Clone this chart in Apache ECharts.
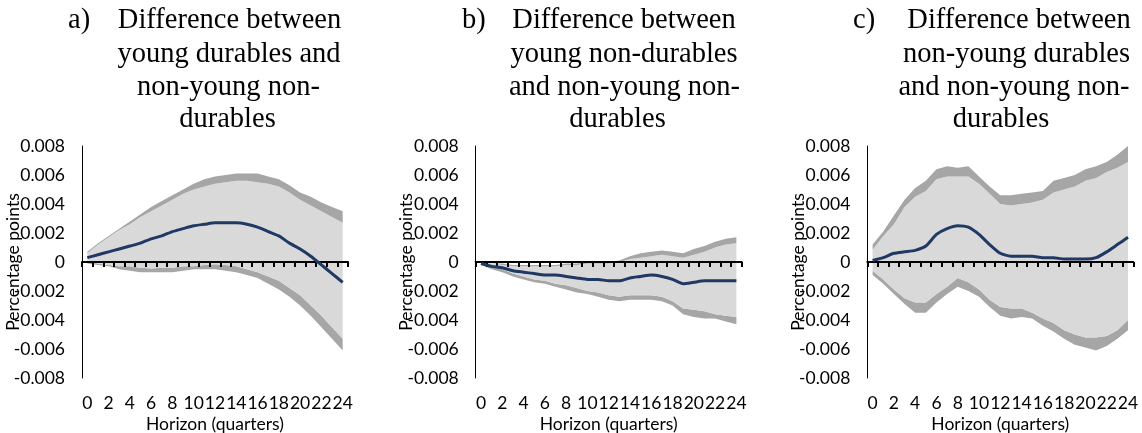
<!DOCTYPE html>
<html><head><meta charset="utf-8">
<script src="https://cdn.jsdelivr.net/npm/echarts@6/dist/echarts.min.js"></script>
<style>html,body{margin:0;padding:0;background:#fff}#c{width:1142px;height:433px}</style>
</head><body><div id="c"></div>
<script>
const horizons = ['0','1','2','3','4','5','6','7','8','9','10','11','12','13','14','15','16','17','18','19','20','21','22','23','24'];

// Panel a
const aMean = [0.0003,0.0005,0.0007,0.0009,0.0011,0.0013,0.0016,0.0018,0.0021,0.0023,0.0025,0.0026,0.0027,0.0027,0.0027,0.0026,0.0024,0.0021,0.0018,0.0013,0.0009,0.0004,-0.0002,-0.0008,-0.0014];
const aUpperOuter = [0.0007,0.0013,0.0018,0.0023,0.0028,0.0033,0.0038,0.0042,0.0046,0.0050,0.0054,0.0057,0.0059,0.0060,0.0061,0.0061,0.0061,0.0059,0.0057,0.0053,0.0048,0.0045,0.0041,0.0038,0.0035];
const aUpperInner = [0.0006,0.0012,0.0017,0.0022,0.0026,0.0031,0.0035,0.0039,0.0043,0.0047,0.0050,0.0052,0.0054,0.0055,0.0056,0.0056,0.0055,0.0054,0.0052,0.0048,0.0043,0.0039,0.0035,0.0031,0.0027];
const aLowerInner = [0,-0.0001,-0.0002,-0.0003,-0.0003,-0.0004,-0.00045,-0.0004,-0.0004,-0.0003,-0.0003,-0.0002,-0.00015,-0.0002,-0.0003,-0.0005,-0.0007,-0.0010,-0.0013,-0.0018,-0.0023,-0.0030,-0.0037,-0.0045,-0.0053];
const aLowerOuter = [-0.0001,-0.0002,-0.0003,-0.0005,-0.0006,-0.0007,-0.0007,-0.0007,-0.0007,-0.0006,-0.0005,-0.0005,-0.0005,-0.0006,-0.0007,-0.0009,-0.0011,-0.0015,-0.0019,-0.0024,-0.0030,-0.0037,-0.0045,-0.0053,-0.0061];

// Panel b
const bMean = [-0.0001,-0.0003,-0.0004,-0.0006,-0.0007,-0.0008,-0.0009,-0.0009,-0.0010,-0.0011,-0.0012,-0.0012,-0.0013,-0.0013,-0.0011,-0.0010,-0.0009,-0.0010,-0.0012,-0.0015,-0.0014,-0.0013,-0.0013,-0.0013,-0.0013];
const bUpperOuter = [0,-0.0001,-0.0001,-0.0002,-0.0002,-0.0002,-0.0002,-0.0002,-0.0001,-0.0001,0,0,0,0.0001,0.0004,0.0006,0.0007,0.0008,0.0007,0.0006,0.0009,0.0011,0.0014,0.0016,0.0017];
const bUpperInner = [-0.0001,-0.0001,-0.0002,-0.0003,-0.0003,-0.0003,-0.0003,-0.0003,-0.0002,-0.0002,-0.0001,-0.0001,-0.0001,0,0.0002,0.0003,0.0004,0.0005,0.0004,0.0003,0.0005,0.0007,0.0010,0.0012,0.0013];
const bLowerInner = [-0.0001,-0.0003,-0.0005,-0.0008,-0.0010,-0.0012,-0.0013,-0.0015,-0.0016,-0.0018,-0.0020,-0.0021,-0.0023,-0.0024,-0.0023,-0.0023,-0.0023,-0.0024,-0.0027,-0.0032,-0.0033,-0.0034,-0.0036,-0.0037,-0.0038];
const bLowerOuter = [-0.0002,-0.0005,-0.0007,-0.0010,-0.0012,-0.0014,-0.0015,-0.0017,-0.0019,-0.0021,-0.0022,-0.0024,-0.0026,-0.0027,-0.0026,-0.0026,-0.0026,-0.0027,-0.0030,-0.0036,-0.0038,-0.0039,-0.0039,-0.0041,-0.0043];

// Panel c
const cMean = [0.0001,0.0003,0.0006,0.0007,0.0008,0.0011,0.0019,0.0023,0.0025,0.0024,0.0019,0.0012,0.0006,0.0004,0.0004,0.0004,0.0003,0.0003,0.0002,0.0002,0.0002,0.0003,0.0007,0.0012,0.0017];
const cUpperOuter = [0.0012,0.0021,0.0032,0.0043,0.0051,0.0056,0.0064,0.0066,0.0065,0.0066,0.0059,0.0052,0.0046,0.0046,0.0047,0.0048,0.0049,0.0056,0.0058,0.0060,0.0064,0.0066,0.0069,0.0074,0.0080];
const cUpperInner = [0.00085,0.0018,0.0026,0.0038,0.0045,0.0049,0.0057,0.0059,0.0059,0.0059,0.0054,0.0047,0.0040,0.0039,0.0040,0.0041,0.0043,0.0048,0.0050,0.0052,0.0056,0.0058,0.0062,0.0065,0.0069];
const cLowerInner = [-0.0006,-0.0012,-0.0019,-0.0025,-0.0028,-0.0028,-0.0022,-0.0017,-0.0011,-0.0014,-0.0019,-0.0026,-0.0031,-0.0032,-0.0032,-0.0035,-0.0039,-0.0042,-0.0047,-0.0050,-0.0052,-0.0052,-0.0051,-0.0047,-0.0040];
const cLowerOuter = [-0.0009,-0.0015,-0.0022,-0.0029,-0.0035,-0.0035,-0.0028,-0.0022,-0.0017,-0.0020,-0.0024,-0.0031,-0.0037,-0.0039,-0.0038,-0.0039,-0.0044,-0.0048,-0.0053,-0.0057,-0.0059,-0.0061,-0.0058,-0.0053,-0.0047];

const yTicks = ['-0.008','-0.006','-0.004','-0.002','0','0.002','0.004','0.006','0.008'];

const panels = [
  {left: 82, label: 'a)', labelX: 68, lines: [['Difference between',229.5],['young durables and',229],['non-young non-',228.5],['durables',227.5]],
   mean: aMean, uo: aUpperOuter, ui: aUpperInner, li: aLowerInner, lo: aLowerOuter},
  {left: 475.7, label: 'b)', labelX: 462, lines: [['Difference between',624],['young non-durables',624],['and non-young non-',624.5],['durables',617.5]],
   mean: bMean, uo: bUpperOuter, ui: bUpperInner, li: bLowerInner, lo: bLowerOuter},
  {left: 867.3, label: 'c)', labelX: 853, lines: [['Difference between',1019],['non-young durables',1016.5],['and non-young non-',1014],['durables',1001]],
   mean: cMean, uo: cUpperOuter, ui: cUpperInner, li: cLowerInner, lo: cLowerOuter}
];

const FONT = 'Lato';
const FS = 17.5;
const TFONT = '28.5px "Liberation Serif"';
const DARK = '#A6A6A6', LIGHT = '#D9D9D9', NAVY = '#1F3864';
const grid = [], xAxis = [], yAxis = [], series = [], graphic = [];
const lineMid = [21, 54.5, 87.5, 119.5];

panels.forEach((p, g) => {
  grid.push({left: p.left, top: 146, width: 266, height: 232, containLabel: false, outerBoundsMode: 'none'});
  xAxis.push({type: 'category', gridIndex: g, data: horizons, boundaryGap: true, position: 'bottom', z: 5,
    axisLine: {onZero: true, lineStyle: {color: '#000', width: 2}},
    axisTick: {show: true, interval: 0, length: 5, lineStyle: {color: '#000', width: 2}},
    axisLabel: {show: false}, splitLine: {show: false}});
  xAxis.push({type: 'category', gridIndex: g, data: horizons, boundaryGap: true, position: 'bottom',
    axisLine: {show: false, onZero: false}, axisTick: {show: false},
    axisLabel: {show: true, interval: 1, margin: 16, color: '#000', fontFamily: FONT, fontSize: FS},
    name: 'Horizon (quarters)', nameLocation: 'middle', nameGap: 37, nameMoveOverlap: false,
    nameTextStyle: {color: '#000', fontFamily: FONT, fontSize: FS}});
  yAxis.push({type: 'value', gridIndex: g, min: -0.008, max: 0.008, interval: 0.002,
    axisLine: {show: true, lineStyle: {color: '#000', width: 1}}, axisTick: {show: false}, splitLine: {show: false},
    axisLabel: {margin: 17, color: '#000', fontFamily: FONT, fontSize: FS,
      formatter: v => yTicks[Math.round((v + 0.008) / 0.002)]},
    name: 'Percentage points', nameLocation: 'middle', nameGap: 60, nameMoveOverlap: false,
    nameTextStyle: {color: '#000', fontFamily: FONT, fontSize: FS}});
  const xi = g * 2;
  const stack = 'band' + g;
  const base = {type: 'line', xAxisIndex: xi, yAxisIndex: g, stack: stack, stackStrategy: 'all',
    symbol: 'none', lineStyle: {width: 0, opacity: 0}, z: 1, silent: true};
  series.push(Object.assign({}, base, {data: p.lo, areaStyle: {opacity: 0}}));
  series.push(Object.assign({}, base, {data: p.li.map((v, i) => v - p.lo[i]), areaStyle: {color: DARK, opacity: 1}}));
  series.push(Object.assign({}, base, {data: p.ui.map((v, i) => v - p.li[i]), areaStyle: {color: LIGHT, opacity: 1}}));
  series.push(Object.assign({}, base, {data: p.uo.map((v, i) => v - p.ui[i]), areaStyle: {color: DARK, opacity: 1}}));
  series.push({type: 'line', xAxisIndex: xi, yAxisIndex: g, data: p.mean, symbol: 'none', smooth: 0.2,
    lineStyle: {color: NAVY, width: 3}, z: 10});
  graphic.push({type: 'text', x: p.labelX, y: lineMid[0],
    style: {text: p.label, font: TFONT, fill: '#000', textAlign: 'left', textVerticalAlign: 'middle'}});
  p.lines.forEach((ln, k) => {
    graphic.push({type: 'text', x: ln[1], y: lineMid[k],
      style: {text: ln[0], font: TFONT, fill: '#000', textAlign: 'center', textVerticalAlign: 'middle'}});
  });
});

const chart = echarts.init(document.getElementById('c'), null, {renderer: 'canvas'});
chart.setOption({animation: false, grid, xAxis, yAxis, series, graphic});
</script></body></html>
